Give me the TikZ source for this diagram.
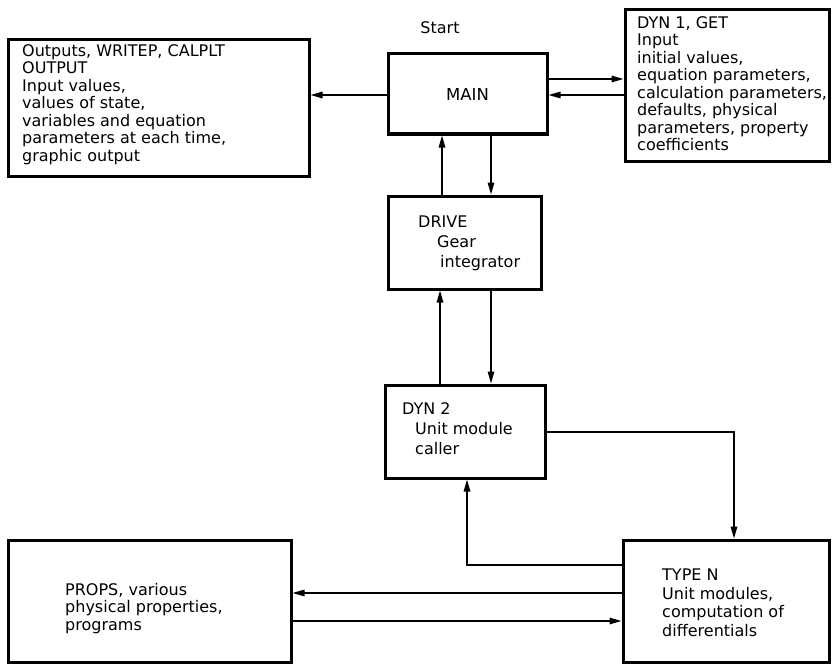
\documentclass[tikz,border=0pt]{standalone}
\usepackage{fontspec}
\setmainfont{DejaVu Sans}
\usetikzlibrary{arrows.meta}

\begin{document}
\begin{tikzpicture}[x=1pt, y=-1pt,
    box/.style={draw, line width=3pt, inner sep=0pt},
    txt/.style={anchor=north west, inner sep=0pt, align=left,
      font=\fontsize{16}{17.5}\selectfont},
    arr/.style={line width=1.5pt, -{Triangle[length=12pt, width=6.5pt]}}]

  \useasboundingbox (0, 0) rectangle (832, 666);

  % boxes
  \node[box, minimum width=301pt, minimum height=136pt] (out)   at (158.5, 108) {};
  \node[box, minimum width=159pt, minimum height=80pt]  (main)  at (467.5, 94) {};
  \node[box, minimum width=204pt, minimum height=151pt] (dyn1)  at (727, 85.5) {};
  \node[box, minimum width=153pt, minimum height=93pt]  (drive) at (464.5, 242.5) {};
  \node[box, minimum width=160pt, minimum height=93pt]  (dyn2)  at (465, 431.5) {};
  \node[box, minimum width=206pt, minimum height=122pt] (typen) at (726, 601) {};
  \node[box, minimum width=283pt, minimum height=122pt] (props) at (149.5, 601) {};

  % texts
  \node[anchor=base, font=\fontsize{16}{17.5}\selectfont] (start) at (440, 34) {Start};
  \node[font=\fontsize{16.5}{17.5}\selectfont] (maintxt) at (main) {MAIN};
  \node[txt] (outtxt) at (22, 44)
    {Outputs, WRITEP, CALPLT\\OUTPUT\\Input values,\\values of state,\\
     variables and equation\\parameters at each time,\\graphic output};
  \node[txt] (dyn1txt) at (637, 16)
    {DYN 1, GET\\Input\\initial values,\\equation parameters,\\
     calculation parameters,\\defaults, physical\\parameters, property\\coefficients};
  \node[txt, font=\fontsize{16}{20}\selectfont] (drivetxt) at (418, 216)
    {DRIVE\\\hspace*{19pt}Gear\\\hspace*{22pt}integrator};
  \node[txt, font=\fontsize{16}{20}\selectfont] (dyn2txt) at (402, 402)
    {DYN 2\\\hspace*{13pt}Unit module\\\hspace*{13pt}caller};
  \node[txt, font=\fontsize{16}{18.5}\selectfont] (typentxt) at (662, 569)
    {TYPE N\\Unit modules,\\computation of\\differentials};
  \node[txt] (propstxt) at (65, 583)
    {PROPS, various\\physical properties,\\programs};

  % connector positions
  \coordinate (ya) at (0, 79);
  \coordinate (yb) at (0, 95);
  \coordinate (xa) at (442, 0);
  \coordinate (xb) at (491, 0);
  \coordinate (xc) at (440, 0);
  \coordinate (yc) at (0, 432);
  \coordinate (xd) at (734, 0);
  \coordinate (yd) at (0, 565);
  \coordinate (xe) at (467, 0);
  \coordinate (ye) at (0, 593);
  \coordinate (yf) at (0, 621);

  \draw[arr] (main.west |- yb) -- (out.east |- yb);
  \draw[arr] (main.east |- ya) -- (dyn1.west |- ya);
  \draw[arr] (dyn1.west |- yb) -- (main.east |- yb);
  \draw[arr] (drive.north -| xa) -- (main.south -| xa);
  \draw[arr] (main.south -| xb) -- (drive.north -| xb);
  \draw[arr] (dyn2.north -| xc) -- (drive.south -| xc);
  \draw[arr] (drive.south -| xb) -- (dyn2.north -| xb);
  \draw[arr] (dyn2.east |- yc) -| (typen.north -| xd);
  \draw[arr] (typen.west |- yd) -| (dyn2.south -| xe);
  \draw[arr] (typen.west |- ye) -- (props.east |- ye);
  \draw[arr] (props.east |- yf) -- (typen.west |- yf);

\end{tikzpicture}
\end{document}
